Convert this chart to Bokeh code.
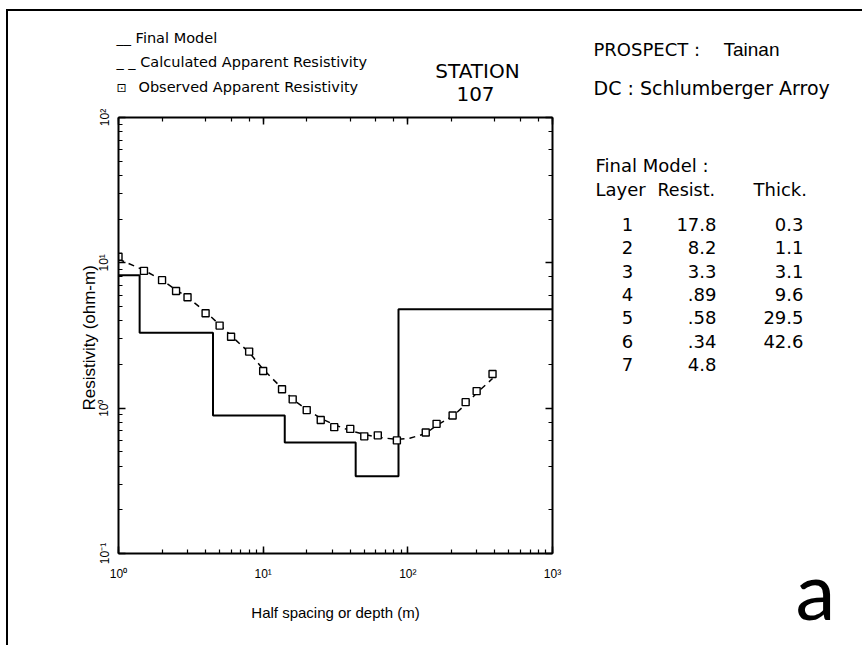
from bokeh.plotting import figure
from bokeh.models import Label, LogAxis, CustomJSTickFormatter
from bokeh.embed import file_html
from bokeh.resources import INLINE
import numpy as np

# ---------------- data ----------------
layer_no = ["1", "2", "3", "4", "5", "6", "7"]
layer_resist = [17.8, 8.2, 3.3, 0.89, 0.58, 0.34, 4.8]
layer_thick = [0.3, 1.1, 3.1, 9.6, 29.5, 42.6]
resist_labels = ["17.8", "8.2", "3.3", ".89", ".58", ".34", "4.8"]
thick_labels = ["0.3", "1.1", "3.1", "9.6", "29.5", "42.6", ""]

obs_spacing = [1, 1.5, 2, 2.5, 3, 4, 5, 6, 8, 10, 13.5, 16, 20, 25, 31, 40, 50, 62, 84,
               133, 158, 204, 251, 299, 385]
obs_resist = [11.0, 8.8, 7.6, 6.4, 5.8, 4.5, 3.7, 3.1, 2.45, 1.8, 1.35, 1.15, 0.97, 0.83,
              0.74, 0.72, 0.64, 0.65, 0.60, 0.68, 0.78, 0.89, 1.10, 1.31, 1.72]

calc_spacing = [1, 1.5, 2, 2.5, 3, 4, 5, 6, 8, 10, 13.5, 16, 20, 25, 31, 40, 50, 62, 84,
                103, 133, 158, 204, 251, 299, 385]
calc_resist = [10.6, 8.9, 7.6, 6.5, 5.8, 4.6, 3.75, 3.15, 2.42, 1.85, 1.37, 1.15, 0.98,
               0.85, 0.77, 0.70, 0.66, 0.63, 0.61, 0.62, 0.67, 0.76, 0.88, 1.06, 1.27, 1.60]

x_range = (1, 1000)
y_range = (0.1, 100)

# step line of the final model
tops = np.concatenate([[0.0], np.cumsum(layer_thick)])
bottoms = np.concatenate([tops[1:], [x_range[1]]])
tops[0] = x_range[0] / 10.0  # layer 1 starts at the surface (off-plot on log axis)
step_x, step_y = [], []
for t, b, r in zip(tops, bottoms, layer_resist):
    step_x += [t, b]
    step_y += [r, r]

# ---------------- layout constants (page pixels) ----------------
FRAME_L, FRAME_R, FRAME_T, FRAME_B = 118, 552, 117, 553
MARGIN_L, MARGIN_T, BORDER = 6, 9, 2
CX, CY = MARGIN_L + BORDER, MARGIN_T + BORDER      # canvas origin of the plot on the page
W = 864
WP, HP = W - CX, 636
H = MARGIN_T + BORDER + HP

p = figure(width=WP, height=HP, x_axis_type="log", y_axis_type="log",
           x_range=x_range, y_range=y_range,
           output_backend="svg", toolbar_location=None,
           min_border_left=FRAME_L - CX, min_border_right=CX + WP - FRAME_R,
           min_border_top=FRAME_T - CY, min_border_bottom=CY + HP - FRAME_B)
p.grid.visible = False
p.outline_line_color = None
p.background_fill_color = "white"
p.border_fill_color = "white"
p.styles = {"margin-left": f"{MARGIN_L}px", "margin-top": f"{MARGIN_T}px",
            "border-top": f"{BORDER}px solid black", "border-left": f"{BORDER}px solid black"}

sup_code = """
const sup = {"-": "\u207b", "0": "\u2070", "1": "\u00b9", "2": "\u00b2", "3": "\u00b3",
             "4": "\u2074", "5": "\u2075", "6": "\u2076", "7": "\u2077", "8": "\u2078", "9": "\u2079"};
const e = Math.round(Math.log10(tick));
return "10" + String(e).split("").map(c => sup[c]).join("");
"""
blank = CustomJSTickFormatter(code="return '';")


def style_axis(ax):
    ax.axis_line_width = 2
    ax.axis_line_color = "black"
    ax.major_tick_in = 7
    ax.major_tick_out = 0
    ax.minor_tick_in = 4
    ax.minor_tick_out = 0
    ax.major_tick_line_width = 1.5
    ax.minor_tick_line_width = 1.2
    ax.major_tick_line_color = "black"
    ax.minor_tick_line_color = "black"
    ax.major_label_text_font = "Liberation Sans"
    ax.major_label_text_font_size = "12px"
    ax.major_label_text_color = "black"


xa = p.xaxis[0]
ya = p.yaxis[0]
style_axis(xa)
style_axis(ya)
xa.formatter = CustomJSTickFormatter(code=sup_code)
ya.formatter = CustomJSTickFormatter(code=sup_code)
ya.major_label_orientation = "vertical"
xa.major_label_standoff = 13
ya.major_label_standoff = 7
xa.axis_label = "Half spacing or depth (m)"
ya.axis_label = "Resistivity  (ohm-m)"
for ax in (xa, ya):
    ax.axis_label_text_font = "Liberation Sans"
    ax.axis_label_text_font_style = "normal"
    ax.axis_label_text_color = "black"
xa.axis_label_text_font_size = "15px"
ya.axis_label_text_font_size = "17px"
xa.axis_label_standoff = 20
ya.axis_label_standoff = -4

ra = LogAxis(formatter=blank)
ta = LogAxis(formatter=blank)
style_axis(ra)
style_axis(ta)
p.add_layout(ra, "right")
p.add_layout(ta, "above")

# ---------------- glyphs ----------------
p.line(step_x, step_y, line_color="black", line_width=2)
p.line(calc_spacing, calc_resist, line_color="black", line_width=1.5, line_dash="6 5")
p.scatter(obs_spacing, obs_resist, marker="square", size=7, line_color="black",
          line_width=1.4, fill_color="white")

# ---------------- transparent overlay (separate root) for texts around the plot ----------------
q = figure(width=W, height=H, x_range=(0, W), y_range=(H, 0),
           output_backend="svg", toolbar_location=None,
           x_axis_location=None, y_axis_location=None,
           min_border=0, min_border_left=0, min_border_right=0,
           min_border_top=0, min_border_bottom=0)
q.grid.visible = False
q.outline_line_color = None
q.background_fill_color = None
q.border_fill_color = None
q.styles = {"position": "absolute", "left": "0px", "top": "0px", "z-index": "10"}

FONT = "DejaVu Sans"


def lab(text, px, py, size, font=FONT, align="left", baseline="middle"):
    q.add_layout(Label(x=px, y=py, text=text, text_font=font, text_font_size=f"{size}px",
                       text_align=align, text_baseline=baseline, text_color="black"))


lab("__ Final Model", 116, 37, 14.5)
lab("_ _ Calculated Apparent Resistivity", 116, 61, 14.5)
lab("\u22a1", 121, 87, 12, align="center")
lab("Observed Apparent Resistivity", 138, 86, 14.5)

lab("STATION", 477, 70, 20, align="center")
lab("107", 475, 93, 20, align="center")

lab("PROSPECT  :", 593, 49, 18)
lab("Tainan", 723, 49, 19, font="Liberation Sans")
lab("DC  :  Schlumberger  Arroy", 593, 87, 19)

lab("Final   Model  :", 595, 165, 18)
lab("Layer", 595, 189, 18)
lab("Resist.", 657, 189, 17.5)
lab("Thick.", 753, 189, 18)
row_y0, row_dy = 224, 23.3
for i in range(len(layer_no)):
    y = row_y0 + i * row_dy
    lab(layer_no[i], 627, y, 18, align="center")
    lab(resist_labels[i], 716, y, 18, align="right")
    if thick_labels[i]:
        lab(thick_labels[i], 803, y, 18, align="right")

lab("a", 815, 588, 80, font="Lato", align="center")

open("out.html", "w").write(file_html([q, p], INLINE))
